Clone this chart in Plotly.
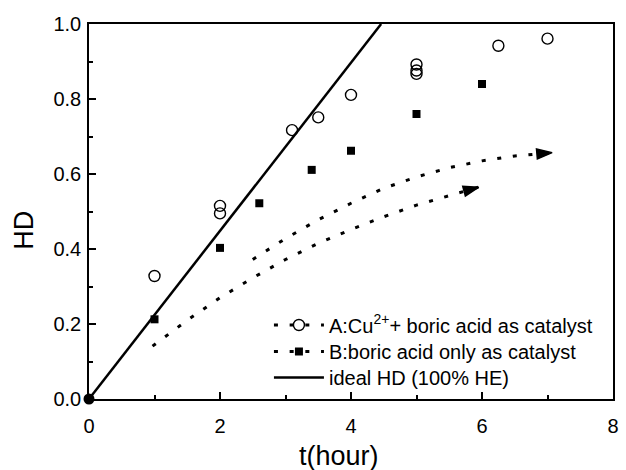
import plotly.graph_objects as go

# ---- data ----
a_t = [1.0, 2.0, 2.0, 3.1, 3.5, 4.0, 5.0, 5.0, 5.0, 6.25, 7.0]
a_hd = [0.328, 0.515, 0.495, 0.717, 0.751, 0.811, 0.892, 0.876, 0.867, 0.942, 0.961]

b_t = [1.0, 2.0, 2.6, 3.4, 4.0, 5.0, 6.0]
b_hd = [0.2125, 0.403, 0.522, 0.611, 0.662, 0.76, 0.84]

ideal_t = [0.0, 4.46]
ideal_hd = [0.0, 1.0]

origin_t = [0.0]
origin_hd = [0.0]

upper_t = [2.5, 3.0, 3.5, 4.0, 4.5, 5.0, 5.5, 6.0, 6.5, 7.07]
upper_hd = [0.372, 0.428, 0.478, 0.522, 0.562, 0.592, 0.617, 0.635, 0.648, 0.657]

lower_t = [0.97, 1.5, 2.0, 2.5, 3.0, 3.5, 4.0, 4.5, 5.0, 5.5, 5.95]
lower_hd = [0.141, 0.21, 0.27, 0.323, 0.372, 0.415, 0.452, 0.486, 0.517, 0.543, 0.565]

x_ticks = [0, 2, 4, 6, 8]
y_ticks = [0.0, 0.2, 0.4, 0.6, 0.8, 1.0]

label_a = "A:Cu<sup>2+</sup>+ boric acid as catalyst"
label_b = "B:boric acid only as catalyst"
label_ideal = "ideal HD (100% HE)"

FONT = "Arial, Liberation Sans, Helvetica, sans-serif"
DOT = "4px,11.7px"

fig = go.Figure()


def curve(ts, hs):
    return go.Scatter(
        x=ts, y=hs, mode="lines", showlegend=False, hoverinfo="skip",
        line=dict(color="black", width=3, dash=DOT),
    )


def head(ts, hs):
    # arrowhead at the end of a curve, oriented along the last segment
    return go.Scatter(
        x=ts[-2:], y=hs[-2:], mode="markers", showlegend=False, hoverinfo="skip",
        marker=dict(symbol="arrow", angleref="previous", size=[0, 16],
                    color="#000000", opacity=1,
                    line=dict(width=1.5, color="#000000")),
    )


fig.add_trace(curve(upper_t, upper_hd))
fig.add_trace(curve(lower_t, lower_hd))
fig.add_trace(head(upper_t, upper_hd))
fig.add_trace(head(lower_t, lower_hd))

fig.add_trace(go.Scatter(x=ideal_t, y=ideal_hd, mode="lines", showlegend=False,
                         line=dict(color="black", width=2.5)))

fig.add_trace(go.Scatter(x=a_t, y=a_hd, mode="markers", showlegend=False,
                         marker=dict(symbol="circle-open", size=11, color="black",
                                     line=dict(width=1.4, color="black"))))
fig.add_trace(go.Scatter(x=b_t, y=b_hd, mode="markers", showlegend=False,
                         marker=dict(symbol="square", size=8, color="black")))
fig.add_trace(go.Scatter(x=origin_t, y=origin_hd, mode="markers", showlegend=False,
                         cliponaxis=False,
                         marker=dict(symbol="circle", size=11, color="black")))

# legend entries (one legend each to control row spacing)
fig.add_trace(go.Scatter(x=[None], y=[None], mode="lines+markers", name=label_a,
                         legend="legend",
                         line=dict(color="black", width=3, dash=DOT),
                         marker=dict(symbol="circle-open", size=11, color="black",
                                     line=dict(width=1.4, color="black"))))
fig.add_trace(go.Scatter(x=[None], y=[None], mode="lines+markers", name=label_b,
                         legend="legend2",
                         line=dict(color="black", width=3, dash=DOT),
                         marker=dict(symbol="square", size=8, color="black")))
fig.add_trace(go.Scatter(x=[None], y=[None], mode="lines", name=label_ideal,
                         legend="legend3",
                         line=dict(color="black", width=2.5)))

L, R, T, B = 89, 7, 24, 71
W, H = 626, 470
pw, ph = W - L - R, H - T - B


def px_to_paper(xp, yp):
    return (xp - L) / pw, (H - B - yp) / ph


def leg(yp):
    x, y = px_to_paper(271, yp)
    return dict(x=x, y=y, xanchor="left", yanchor="middle",
                bgcolor="rgba(0,0,0,0)", borderwidth=0,
                font=dict(family=FONT, size=20, color="black"),
                itemwidth=50, tracegroupgap=0)


axis_common = dict(
    showgrid=False, zeroline=False, showline=True, linecolor="black",
    linewidth=1.5, mirror=True, ticks="inside", ticklen=7, tickwidth=1.5,
    tickcolor="black", tickfont=dict(family=FONT, size=20, color="black"),
)

fig.update_layout(
    width=W, height=H,
    margin=dict(l=L, r=R, t=T, b=B),
    paper_bgcolor="white", plot_bgcolor="white",
    font=dict(family=FONT, color="black"),
    xaxis=dict(range=[0, 8], tickvals=x_ticks, ticklabelstandoff=8,
               minor=dict(dtick=1, ticks="inside", ticklen=4, tickwidth=1.5,
                          tickcolor="black"),
               **axis_common),
    yaxis=dict(range=[0, 1], tickvals=y_ticks, tickformat=".1f",
               ticklabelstandoff=2,
               minor=dict(dtick=0.1, ticks="inside", ticklen=4, tickwidth=1.5,
                          tickcolor="black"),
               **axis_common),
    legend=leg(325),
    legend2=leg(351.5),
    legend3=leg(377.5),
)

hx, hy = px_to_paper(23, 230)
tx, ty = px_to_paper(342, 456)
fig.add_annotation(text="HD", xref="paper", yref="paper", x=hx, y=hy,
                   xanchor="center", yanchor="middle",
                   showarrow=False, textangle=-90,
                   font=dict(family=FONT, size=27, color="black"))
fig.add_annotation(text="t(hour)", xref="paper", yref="paper", x=tx, y=ty,
                   xanchor="center", yanchor="middle",
                   showarrow=False,
                   font=dict(family=FONT, size=27, color="black"))

fig.write_html("out.html")
